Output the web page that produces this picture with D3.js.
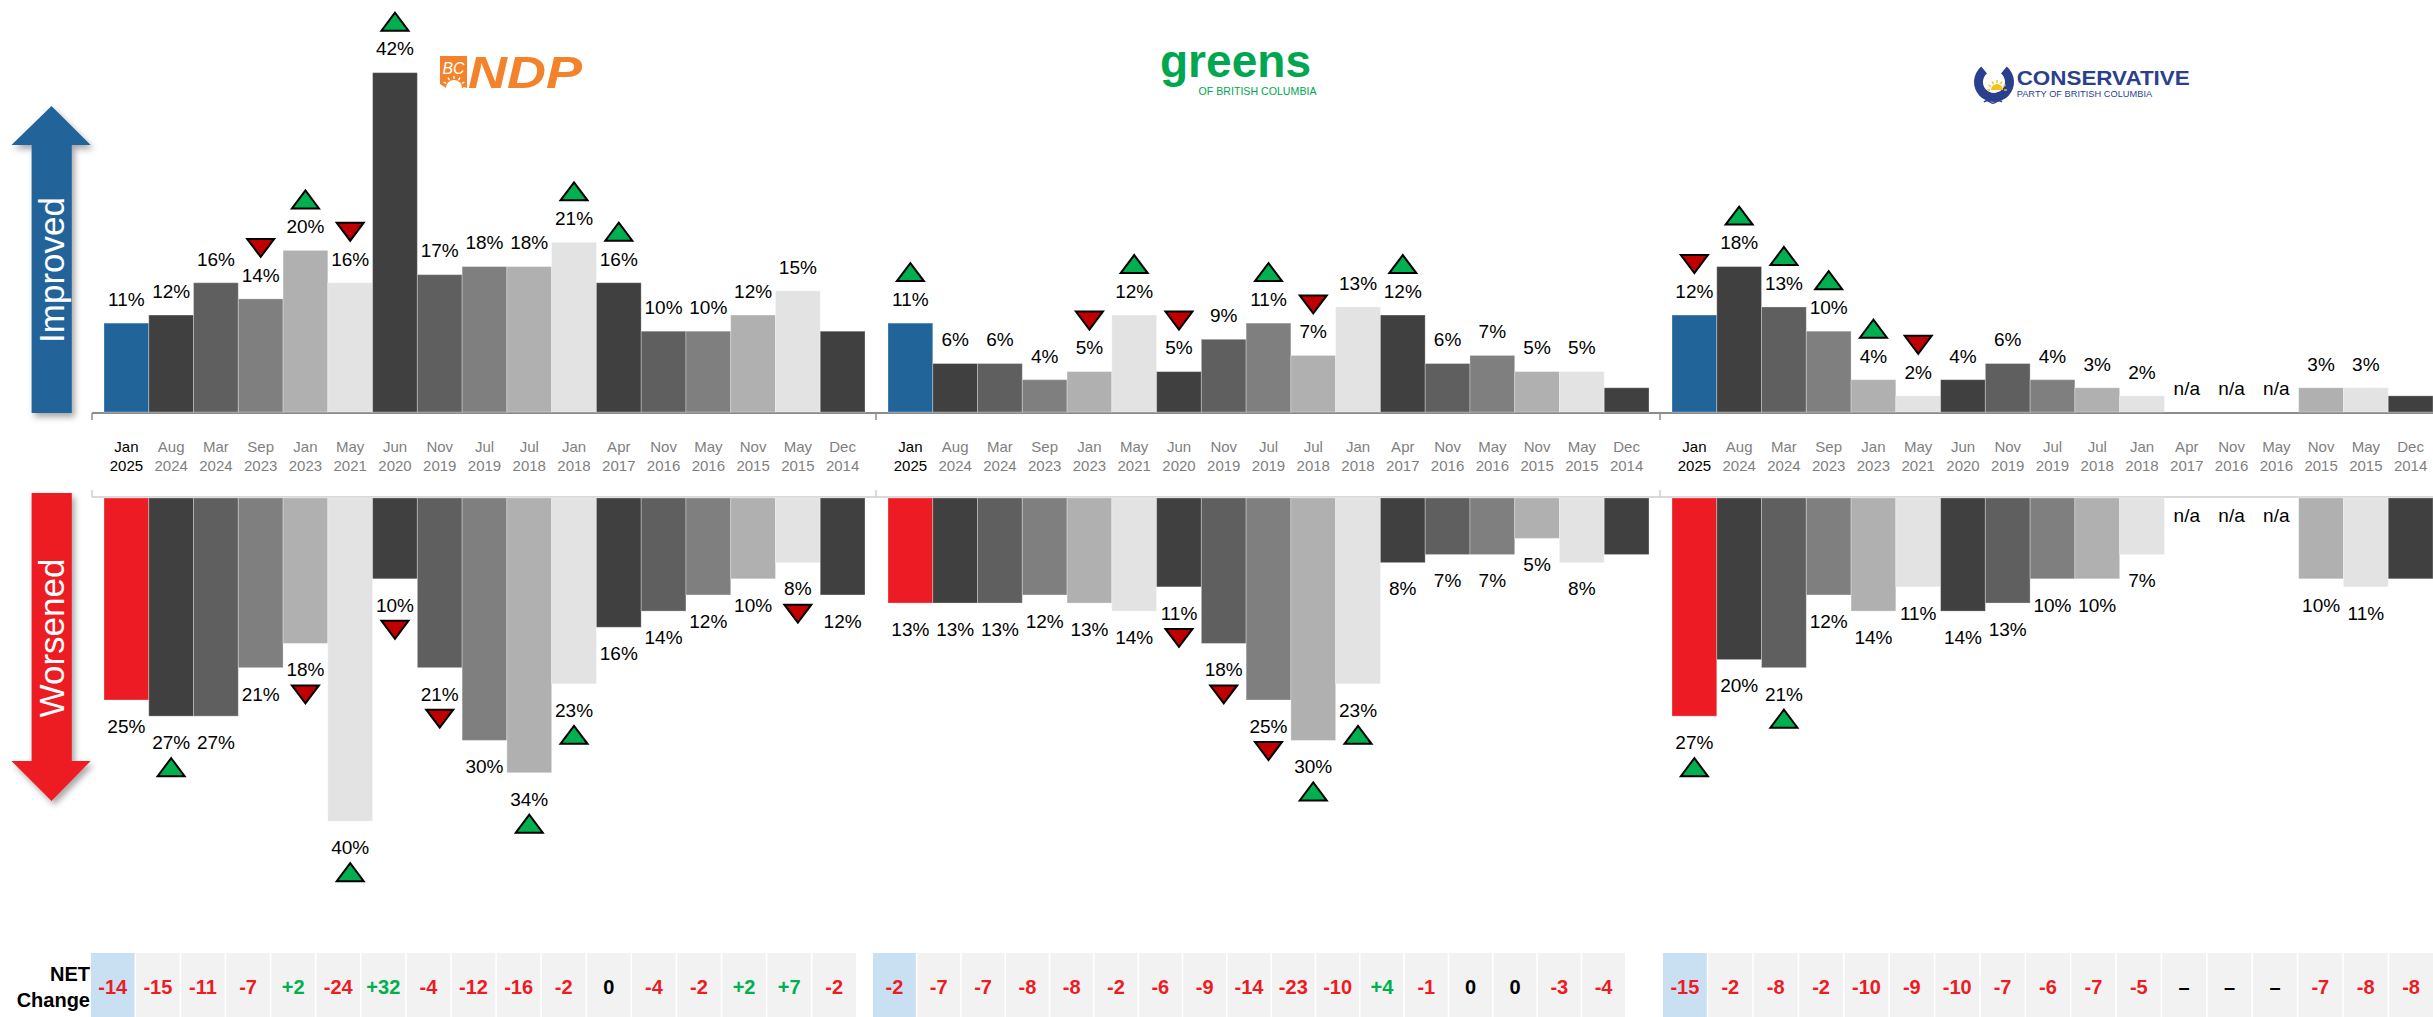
<!DOCTYPE html>
<html><head><meta charset="utf-8">
<script src="https://cdn.jsdelivr.net/npm/d3@7"></script>
<style>
body{margin:0;background:#fff;}
svg{display:block;font-family:"Liberation Sans",Arial,Helvetica,sans-serif;}
</style>
</head><body>
<svg id="chart" width="2433" height="1017"></svg>
<script>
// ---------------- DATA ----------------
const months = ["Jan 2025","Aug 2024","Mar 2024","Sep 2023","Jan 2023","May 2021","Jun 2020","Nov 2019","Jul 2019","Jul 2018","Jan 2018","Apr 2017","Nov 2016","May 2016","Nov 2015","May 2015","Dec 2014"];
const parties = ["BC NDP","Greens of British Columbia","Conservative Party of British Columbia"];

const ndpImproved    = [11,12,16,14,20,16,42,17,18,18,21,16,10,10,12,15,10];
const ndpWorsened    = [25,27,27,21,18,40,10,21,30,34,23,16,14,12,10,8,12];
const greensImproved = [11,6,6,4,5,12,5,9,11,7,13,12,6,7,5,5,3];
const greensWorsened = [13,13,13,12,13,14,11,18,25,30,23,8,7,7,5,8,7];
const consImproved   = [12,18,13,10,4,2,4,6,4,3,2,null,null,null,3,3,2];
const consWorsened   = [27,20,21,12,14,11,14,13,10,10,7,null,null,null,10,11,10];

// significance markers: 1 = significant increase, -1 = significant decrease
const ndpImprovedSig    = [0,0,0,-1,1,-1,1,0,0,0,1,1,0,0,0,0,0];
const ndpWorsenedSig    = [0,1,0,0,-1,1,-1,-1,0,1,1,0,0,0,0,-1,0];
const greensImprovedSig = [1,0,0,0,-1,1,-1,0,1,-1,0,1,0,0,0,0,0];
const greensWorsenedSig = [0,0,0,0,0,0,-1,-1,-1,1,1,0,0,0,0,0,0];
const consImprovedSig   = [-1,1,1,1,1,-1,0,0,0,0,0,0,0,0,0,0,0];
const consWorsenedSig   = [1,0,1,0,0,0,0,0,0,0,0,0,0,0,0,0,0];

// bars shown without a value label
const ndpImprovedUnlabelled    = ["Dec 2014"];
const ndpWorsenedUnlabelled    = [];
const greensImprovedUnlabelled = ["Dec 2014"];
const greensWorsenedUnlabelled = ["Dec 2014"];
const consImprovedUnlabelled   = ["Dec 2014"];
const consWorsenedUnlabelled   = ["Dec 2014"];

const ndpNet    = [-14,-15,-11,-7,2,-24,32,-4,-12,-16,-2,0,-4,-2,2,7,-2];
const greensNet = [-2,-7,-7,-8,-8,-2,-6,-9,-14,-23,-10,4,-1,0,0,-3,-4];
const consNet   = [-15,-2,-8,-2,-10,-9,-10,-7,-6,-7,-5,null,null,null,-7,-8,-8];

const netRowLabel = ["NET","Change"];
const sideLabels = ["Improved","Worsened"];

// ---------------- LAYOUT ----------------
const svg = d3.select("#chart");
const W = 2433, H = 1017;
const panelLeft = [92, 876, 1660];
const panelWidth = 784;
const upBase = 412, downBase = 498;
const pxPerPct = 8.08;
const netRanges = [[91,856],[873,1625],[1663,2433]];

const yUp = d3.scaleLinear().domain([0,50]).range([upBase, upBase - 50*pxPerPct]);
const yDown = d3.scaleLinear().domain([0,50]).range([downBase, downBase + 50*pxPerPct]);

const grays = ["#404040","#5f5f5f","#7f7f7f","#b0b0b0","#e3e3e3"];
const blue = "#21649a", red = "#ed1c24";
const sigGreen = "#00b050", sigRed = "#c00000";

const panels = [
  {improved: ndpImproved, worsened: ndpWorsened, iSig: ndpImprovedSig, wSig: ndpWorsenedSig,
   iHide: ndpImprovedUnlabelled, wHide: ndpWorsenedUnlabelled, net: ndpNet},
  {improved: greensImproved, worsened: greensWorsened, iSig: greensImprovedSig, wSig: greensWorsenedSig,
   iHide: greensImprovedUnlabelled, wHide: greensWorsenedUnlabelled, net: greensNet},
  {improved: consImproved, worsened: consWorsened, iSig: consImprovedSig, wSig: consWorsenedSig,
   iHide: consImprovedUnlabelled, wHide: consWorsenedUnlabelled, net: consNet}
];

// defs
const defs = svg.append("defs");
const f = defs.append("filter").attr("id","shadow").attr("x","-30%").attr("y","-10%").attr("width","160%").attr("height","120%");
f.append("feDropShadow").attr("dx",3).attr("dy",4).attr("stdDeviation",3).attr("flood-color","#000").attr("flood-opacity",0.35);

// ---------------- side arrows ----------------
const ax = {l:11.5, sl:31.6, c:51.5, sr:71.8, r:90.7};
svg.append("path")
  .attr("d",`M${ax.sl},413 L${ax.sl},145 L${ax.l},145 L${ax.c},106 L${ax.r},145 L${ax.sr},145 L${ax.sr},413 Z`)
  .attr("fill",blue).attr("filter","url(#shadow)");
svg.append("path")
  .attr("d",`M${ax.sl},493 L${ax.sr},493 L${ax.sr},761 L${ax.r},761 L${ax.c},801 L${ax.l},761 L${ax.sl},761 Z`)
  .attr("fill",red).attr("filter","url(#shadow)");
[[sideLabels[0],270],[sideLabels[1],638]].forEach(([t,cy])=>{
  svg.append("text").attr("transform",`translate(${ax.c},${cy}) rotate(-90)`)
    .attr("text-anchor","middle").attr("dy","0.36em")
    .attr("font-size",35).attr("fill","#fff").text(t);
});

// ---------------- axis lines ----------------
svg.append("line").attr("x1",92).attr("x2",W).attr("y1",413).attr("y2",413)
  .attr("stroke","#8c8c8c").attr("stroke-width",2);
svg.append("line").attr("x1",92).attr("x2",W).attr("y1",497).attr("y2",497)
  .attr("stroke","#d9d9d9").attr("stroke-width",2);
panelLeft.forEach(L=>{
  svg.append("line").attr("x1",L).attr("x2",L).attr("y1",413).attr("y2",420).attr("stroke","#8c8c8c").attr("stroke-width",1.5);
  svg.append("line").attr("x1",L).attr("x2",L).attr("y1",490).attr("y2",497).attr("stroke","#cfcfcf").attr("stroke-width",1.5);
});

function tri(g, cx, cy, dir){
  const w = 13.5, h = 9;
  const d = dir > 0 ? `M${cx-w},${cy+h} L${cx+w},${cy+h} L${cx},${cy-h} Z`
                    : `M${cx-w},${cy-h} L${cx+w},${cy-h} L${cx},${cy+h} Z`;
  g.append("path").attr("d",d).attr("fill",dir>0?sigGreen:sigRed)
    .attr("stroke","#000").attr("stroke-width",2).attr("stroke-linejoin","miter");
}

panels.forEach((p, pi)=>{
  const L = panelLeft[pi];
  const x = d3.scaleBand().domain(months).range([L+12, L+773]).padding(0);
  const g = svg.append("g");
  const colorOf = (i, up) => i===0 ? (up?blue:red) : grays[(i-1)%5];

  // improved bars
  g.selectAll(".up").data(months).join("rect")
    .attr("x", d=>x(d)).attr("width", x.bandwidth())
    .attr("y", (d,i)=> p.improved[i]==null ? upBase : yUp(p.improved[i]))
    .attr("height", (d,i)=> p.improved[i]==null ? 0 : upBase - yUp(p.improved[i]))
    .attr("fill", (d,i)=>colorOf(i,true))
    .attr("stroke","#fff").attr("stroke-opacity",0.3).attr("stroke-width",1);
  // worsened bars
  g.selectAll(".down").data(months).join("rect")
    .attr("x", d=>x(d)).attr("width", x.bandwidth())
    .attr("y", downBase)
    .attr("height", (d,i)=> p.worsened[i]==null ? 0 : yDown(p.worsened[i]) - downBase)
    .attr("fill", (d,i)=>colorOf(i,false))
    .attr("stroke","#fff").attr("stroke-opacity",0.3).attr("stroke-width",1);

  // labels + triangles
  months.forEach((m,i)=>{
    const cx = x(m) + x.bandwidth()/2;
    const vi = p.improved[i], vw = p.worsened[i];
    // improved
    const lyU = (vi==null ? upBase : yUp(vi)) - 24;
    if (!p.iHide.includes(m)) {
      g.append("text").attr("x",cx).attr("y",lyU).attr("dy","0.36em")
        .attr("text-anchor","middle").attr("font-size",19).attr("fill","#000")
        .text(vi==null ? "n/a" : vi + "%");
    }
    if (p.iSig[i]) tri(g, cx, lyU - 27, p.iSig[i]);
    // worsened
    const lyD = vw==null ? downBase + 17 : yDown(vw) + 26;
    if (!p.wHide.includes(m)) {
      g.append("text").attr("x",cx).attr("y",lyD).attr("dy","0.36em")
        .attr("text-anchor","middle").attr("font-size",19).attr("fill","#000")
        .text(vw==null ? "n/a" : vw + "%");
    }
    if (p.wSig[i]) tri(g, cx, lyD + 25, p.wSig[i]);
  });

  // category axis
  const axisG = svg.append("g").call(d3.axisBottom(x).tickSize(0).tickPadding(0));
  axisG.select(".domain").remove();
  axisG.selectAll(".tick text").each(function(d,i){
    const t = d3.select(this);
    t.text(null).attr("y",null).attr("dy",null)
      .attr("font-size",15).attr("font-family","'Liberation Sans',Arial,sans-serif")
      .attr("fill", i===0 ? "#000" : "#7f7f7f");
    const parts = d.split(" ");
    t.append("tspan").attr("x",0).attr("y",451.5).text(parts[0]);
    t.append("tspan").attr("x",0).attr("y",470.5).text(parts[1]);
  });

  // net change row
  const nx = d3.scaleBand().domain(months).range(netRanges[pi]).paddingInner(0.035).paddingOuter(0);
  const ng = svg.append("g");
  ng.selectAll("rect").data(months).join("rect")
    .attr("x", d=>nx(d)).attr("width", nx.bandwidth())
    .attr("y", 953).attr("height", H-953)
    .attr("fill", (d,i)=> i===0 ? "#c9e0f3" : "#f2f2f2");
  ng.selectAll("text").data(months).join("text")
    .attr("x", d=>nx(d)+nx.bandwidth()/2).attr("y", 994.3)
    .attr("text-anchor","middle").attr("font-size",20).attr("font-weight","bold")
    .attr("fill",(d,i)=>{const v=p.net[i]; return v==null||v===0 ? "#000" : (v>0? sigGreen : red);})
    .text((d,i)=>{const v=p.net[i]; return v==null ? "\u2013" : v>0 ? "+"+v : v<0 ? "-"+Math.abs(v) : "0";});
});

// NET Change label
svg.append("text").attr("x",90).attr("y",980.7).attr("text-anchor","end")
  .attr("font-size",20).attr("font-weight","bold").attr("fill","#000").text(netRowLabel[0]);
svg.append("text").attr("x",90).attr("y",1006.7).attr("text-anchor","end")
  .attr("font-size",20).attr("font-weight","bold").attr("fill","#000").text(netRowLabel[1]);

// ---------------- party logos ----------------
// BC NDP
const ndpOrange = "#f4822a";
const lg1 = svg.append("g");
lg1.append("path").attr("d","M440,56 L467,56 L467,88 L446,88 L440,84 Z").attr("fill",ndpOrange);
lg1.append("text").attr("x",453.5).attr("y",74).attr("text-anchor","middle")
  .attr("font-size",17).attr("fill","#fff").attr("font-style","italic").attr("textLength",22).attr("lengthAdjust","spacingAndGlyphs").text("BC");
lg1.append("path").attr("d","M446,88 A8,8 0 0 1 462,88 Z").attr("fill","#fff");
d3.range(7).forEach(k=>{
  const a = Math.PI + k*Math.PI/6;
  lg1.append("line").attr("x1",454+9*Math.cos(a)).attr("y1",88+9*Math.sin(a))
    .attr("x2",454+12*Math.cos(a)).attr("y2",88+12*Math.sin(a))
    .attr("stroke","#fff").attr("stroke-width",1.4);
});
lg1.append("text").attr("x",468).attr("y",88.3).attr("font-size",45).attr("font-weight","bold")
  .attr("font-style","italic").attr("fill",ndpOrange).attr("textLength",114).attr("lengthAdjust","spacingAndGlyphs").text("NDP");

// Greens
const gGreen = "#00a650";
svg.append("text").attr("x",1160).attr("y",76.7).attr("font-size",46).attr("font-weight","bold")
  .attr("fill",gGreen).attr("textLength",151).attr("lengthAdjust","spacingAndGlyphs").text("greens");
svg.append("text").attr("x",1198.5).attr("y",95).attr("font-size",10.5)
  .attr("fill",gGreen).attr("textLength",118).attr("lengthAdjust","spacingAndGlyphs").text("OF BRITISH COLUMBIA");

// Conservative
const cBlue = "#2b3f8f";
const lg3 = svg.append("g");
lg3.append("path").attr("d", d3.arc()({innerRadius:11, outerRadius:20, startAngle: Math.PI*0.22, endAngle: Math.PI*1.78}))
  .attr("transform","translate(1994,82)").attr("fill",cBlue);
lg3.append("path").attr("d","M1991,90 A6,6 0 0 1 2003,90 Z").attr("fill","#f6c21a");
d3.range(7).forEach(k=>{
  const a = Math.PI + k*Math.PI/6;
  lg3.append("line").attr("x1",1997+7*Math.cos(a)).attr("y1",90+7*Math.sin(a))
    .attr("x2",1997+10*Math.cos(a)).attr("y2",90+10*Math.sin(a))
    .attr("stroke","#f6c21a").attr("stroke-width",1.4);
});
[94,98,102].forEach(yy=>{
  lg3.append("path").attr("d",`M1984,${yy} q3,-2.5 6,0 t6,0 t6,0`).attr("fill","none").attr("stroke",cBlue).attr("stroke-width",1.6);
});
svg.append("text").attr("x",2016.7).attr("y",85).attr("font-size",20).attr("font-weight","bold")
  .attr("fill",cBlue).attr("textLength",173).attr("lengthAdjust","spacingAndGlyphs").text("CONSERVATIVE");
svg.append("text").attr("x",2016.7).attr("y",97.3).attr("font-size",8.5)
  .attr("fill",cBlue).attr("textLength",135.5).attr("lengthAdjust","spacingAndGlyphs").text("PARTY OF BRITISH COLUMBIA");
</script>
</body></html>
